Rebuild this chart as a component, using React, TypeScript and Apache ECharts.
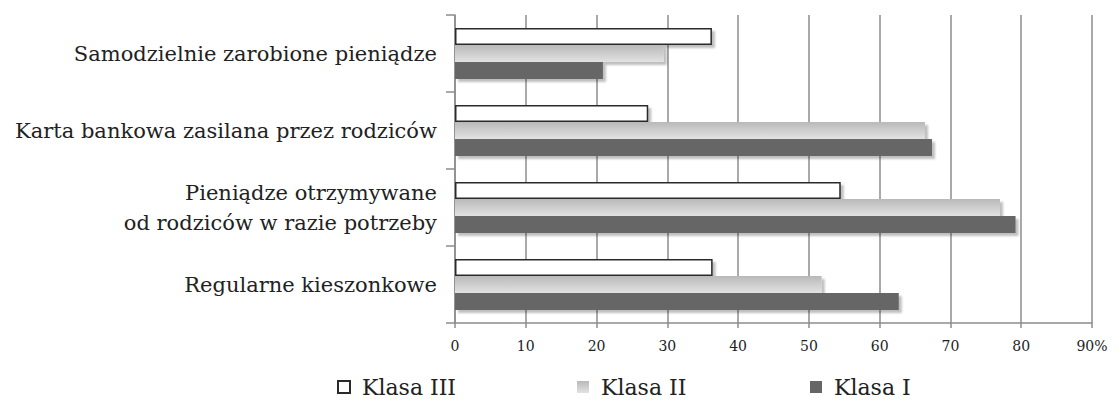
import React, { useEffect, useRef } from "react";
import * as echarts from "echarts";

const categories = [
  "Samodzielnie zarobione pieniądze",
  "Karta bankowa zasilana przez rodziców",
  "Pieniądze otrzymywane\nod rodziców w razie potrzeby",
  "Regularne kieszonkowe",
];
const seriesNames = ["Klasa III", "Klasa II", "Klasa I"];
const klasaIII = [36.3, 27.3, 54.5, 36.4];
const klasaII = [29.5, 66.4, 77.0, 51.8];
const klasaI = [20.9, 67.4, 79.2, 62.7];
const xTickLabels = ["0", "10", "20", "30", "40", "50", "60", "70", "80", "90%"];

const FONT = "DejaVu Serif";
const AXIS_GRAY = "#8c8c8c";

const shadow = {
  shadowColor: "rgba(0,0,0,0.25)",
  shadowBlur: 2,
  shadowOffsetX: 3,
  shadowOffsetY: 3,
};

export default function App() {
  const ref = useRef<HTMLDivElement>(null);

  useEffect(() => {
    if (!ref.current) return;
    const chart = echarts.init(ref.current, undefined, { renderer: "svg" });
    const legendLefts = [332, 572, 805];
    chart.setOption({
      animation: false,
      backgroundColor: "#ffffff",
      textStyle: { fontFamily: FONT },
      grid: { left: 455, right: 26, top: 15, bottom: 82, containLabel: false },
      legend: seriesNames.map((name, i) => ({
        data: [name],
        left: legendLefts[i],
        top: 371,
        itemWidth: 12,
        itemHeight: 12,
        icon: "rect",
        textStyle: {
          fontFamily: FONT,
          fontSize: 22,
          color: "#222",
          padding: [0, 0, 0, 7],
        },
      })),
      xAxis: {
        type: "value",
        min: 0,
        max: 90,
        interval: 10,
        axisLine: { show: true, lineStyle: { color: AXIS_GRAY, width: 1.5 } },
        axisTick: { show: true, length: 5, lineStyle: { color: AXIS_GRAY, width: 1.5 } },
        splitLine: { show: true, lineStyle: { color: AXIS_GRAY, width: 1.5 } },
        axisLabel: {
          margin: 16,
          fontFamily: FONT,
          fontSize: 14,
          color: "#222",
          formatter: (v: number) => xTickLabels[Math.round(v / 10)] ?? String(v),
        },
      },
      yAxis: {
        type: "category",
        data: categories,
        inverse: true,
        axisLine: { show: true, lineStyle: { color: AXIS_GRAY, width: 1.5 } },
        axisTick: { show: true, length: 9, lineStyle: { color: AXIS_GRAY, width: 1.5 } },
        axisLabel: {
          margin: 18,
          fontFamily: FONT,
          fontSize: 21,
          lineHeight: 30,
          color: "#222",
          align: "right",
        },
      },
      series: [
        {
          name: seriesNames[0],
          type: "bar",
          data: klasaIII,
          barWidth: 17,
          barGap: "0%",
          itemStyle: { color: "#ffffff", borderColor: "#2a2a2a", borderWidth: 1.5, ...shadow },
        },
        {
          name: seriesNames[1],
          type: "bar",
          data: klasaII,
          barWidth: 17,
          barGap: "0%",
          itemStyle: {
            color: new echarts.graphic.LinearGradient(0, 0, 0, 1, [
              { offset: 0, color: "#b9b9b9" },
              { offset: 1, color: "#e2e2e2" },
            ]),
            ...shadow,
          },
        },
        {
          name: seriesNames[2],
          type: "bar",
          data: klasaI,
          barWidth: 17,
          barGap: "0%",
          itemStyle: { color: "#666666", ...shadow },
        },
      ],
    });
    return () => chart.dispose();
  }, []);

  return (
    <div
      ref={ref}
      style={{ position: "fixed", left: 0, top: 0, width: 1118, height: 405 }}
    />
  );
}
